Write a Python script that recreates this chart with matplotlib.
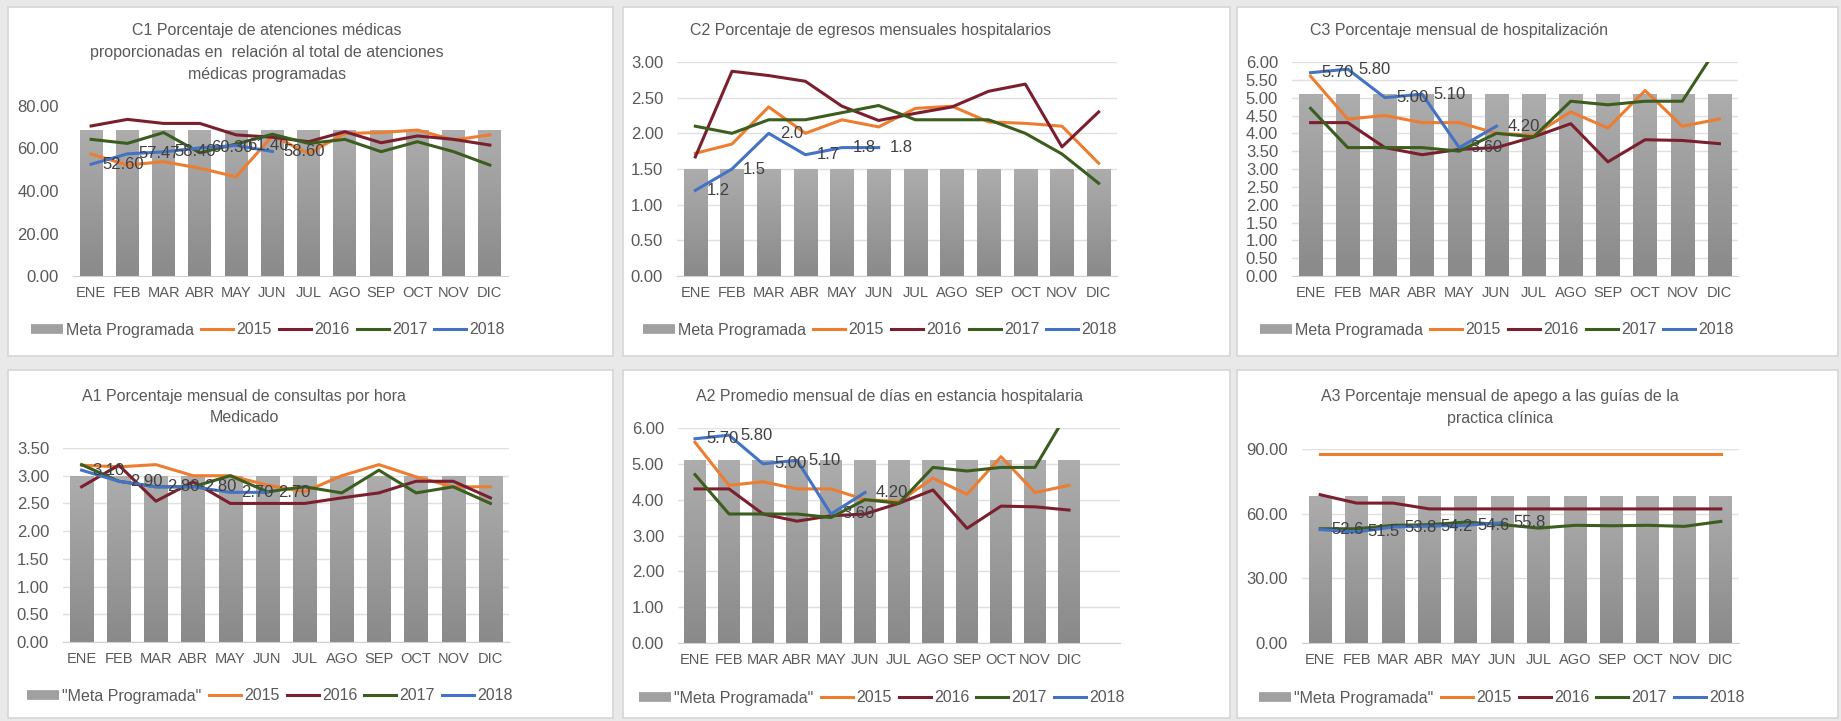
import numpy as np
import matplotlib
matplotlib.use('Agg')
import matplotlib.pyplot as plt
from matplotlib.patches import Rectangle
from matplotlib.lines import Line2D
from matplotlib.colors import LinearSegmentedColormap

plt.rcParams['font.family'] = ['Liberation Sans', 'DejaVu Sans']

W, H = 1841, 721

meses = ['ENE', 'FEB', 'MAR', 'ABR', 'MAY', 'JUN', 'JUL', 'AGO', 'SEP', 'OCT', 'NOV', 'DIC']
anios = ['2015', '2016', '2017', '2018']

# C1 atenciones medicas
c1_meta = 68.7
c1_2015 = [57.4, 52.2, 53.8, 50.7, 46.7, 65.9, 57.7, 67.1, 67.5, 68.7, 64.0, 66.4]
c1_2016 = [70.6, 73.7, 71.8, 71.8, 66.4, 65.3, 63.2, 67.9, 62.7, 65.9, 64.3, 61.6]
c1_2017 = [64.3, 62.4, 67.5, 58.0, 62.1, 66.7, 62.4, 64.3, 58.5, 63.2, 58.5, 52.2]
c1_2018 = [52.60, 57.47, 58.40, 60.30, 61.40, 58.60]

# C2 egresos hospitalarios
c2_meta = 1.5
c2_2015 = [1.72, 1.85, 2.37, 2.00, 2.19, 2.09, 2.35, 2.38, 2.16, 2.14, 2.10, 1.58]
c2_2016 = [1.67, 2.87, 2.81, 2.73, 2.38, 2.18, 2.28, 2.37, 2.59, 2.69, 1.81, 2.30]
c2_2017 = [2.10, 2.00, 2.19, 2.19, 2.29, 2.39, 2.19, 2.19, 2.19, 2.00, 1.71, 1.30]
c2_2018 = [1.2, 1.5, 2.0, 1.7, 1.8, 1.8]

# C3 / A2 hospitalizacion y estancia
hosp_meta = 5.1
hosp_2015 = [5.6, 4.4, 4.5, 4.3, 4.3, 4.0, 3.95, 4.6, 4.15, 5.2, 4.2, 4.4]
hosp_2016 = [4.3, 4.3, 3.6, 3.4, 3.55, 3.6, 3.9, 4.27, 3.2, 3.82, 3.8, 3.71]
hosp_2017 = [4.7, 3.6, 3.6, 3.6, 3.5, 4.0, 3.9, 4.9, 4.8, 4.9, 4.9, 6.5]
hosp_2018 = [5.70, 5.80, 5.00, 5.10, 3.60, 4.20]

# A1 consultas por hora
a1_meta = 3.0
a1_2015 = [3.19, 3.16, 3.20, 3.00, 3.00, 2.83, 2.71, 3.00, 3.20, 2.98, 2.80, 2.80]
a1_2016 = [2.80, 3.19, 2.54, 2.89, 2.50, 2.50, 2.50, 2.60, 2.69, 2.90, 2.90, 2.60]
a1_2017 = [3.20, 2.90, 2.80, 2.80, 3.00, 2.71, 2.80, 2.69, 3.10, 2.69, 2.80, 2.50]
a1_2018 = [3.10, 2.90, 2.80, 2.80, 2.70, 2.70]

# A3 apego a guias
a3_meta = 68.3
a3_2015 = [87.8] * 12
a3_2016 = [68.8, 64.9, 64.9, 62.2, 62.2, 62.2, 62.2, 62.2, 62.2, 62.2, 62.2, 62.2]
a3_2017 = [53.0, 53.0, 54.6, 54.9, 56.1, 54.9, 53.3, 54.6, 54.4, 54.6, 54.1, 56.4]
a3_2018 = [52.6, 51.5, 53.8, 54.2, 54.6, 55.8]

colores = {'2015': '#ED7D31', '2016': '#7B1F2E', '2017': '#3B5E1F', '2018': '#4472C4'}
txt_gris = '#595959'
bar_cmap = LinearSegmentedColormap.from_list('barra', ['#8a8a8a', '#adadad'])

fig = plt.figure(figsize=(W / 100, H / 100), dpi=100)
fig.patch.set_facecolor('#e9e9e9')


def fx(x):
    return x / W


def fy(y):
    return 1 - y / H


def panel(box, axbox, titulo, tit_xy, meta, series, etiquetas, fmt, ylim, paso,
          meta_label, leg_xy, nslots=12, grid=True):
    l, t, r, b = box
    fig.patches.append(Rectangle((fx(l), fy(b)), (r - l) / W, (b - t) / H,
                                 transform=fig.transFigure, facecolor='white',
                                 edgecolor='#d6d6d6', lw=1.2, zorder=-10))
    al, at, ar, ab = axbox
    ax = fig.add_axes([fx(al), fy(ab), (ar - al) / W, (ab - at) / H])
    ax.set_facecolor('none')
    x = np.arange(12)
    barras = ax.bar(x, [meta] * 12, width=0.63, color='none', zorder=1)
    # degradado gris de las barras
    grad = np.linspace(0, 1, 256).reshape(-1, 1)
    for br in barras:
        x0, y0 = br.get_x(), br.get_y()
        im = ax.imshow(grad, extent=(x0, x0 + br.get_width(), y0, y0 + br.get_height()),
                       aspect='auto', cmap=bar_cmap, origin='lower', zorder=1)
        im.set_clip_path(br)
    for anio, vals in zip(anios, series):
        ax.plot(np.arange(len(vals)), vals, color=colores[anio], lw=2.2, zorder=3,
                solid_joinstyle='round')
    for i, v in enumerate(etiquetas):
        ax.annotate(fmt.format(v), (i, v), xytext=(8, 0), textcoords='offset points',
                    ha='left', va='center', fontsize=12, color='#404040', zorder=4)
    ax.set_xlim(-0.5, nslots - 0.5)
    ax.set_ylim(*ylim)
    ax.set_yticks(np.arange(ylim[0], ylim[1] + paso / 2, paso))
    ax.yaxis.set_major_formatter(plt.FormatStrFormatter('%.2f'))
    ax.set_xticks(x)
    ax.set_xticklabels(meses)
    ax.tick_params(axis='both', length=0, colors=txt_gris)
    ax.tick_params(axis='y', labelsize=12, pad=10)
    ax.tick_params(axis='x', labelsize=10.5, pad=7)
    for s in ['top', 'right', 'left']:
        ax.spines[s].set_visible(False)
    ax.spines['bottom'].set_color('#d0d0d0')
    if grid:
        ax.yaxis.grid(True, color='#e0e0e0', lw=1)
        ax.set_axisbelow(True)
    cx, cy = tit_xy
    for k, linea in enumerate(titulo.split('\n')):
        fig.text(fx(cx), fy(cy + k * 21.5), linea, ha='center', va='center',
                 fontsize=11.5, color=txt_gris)
    handles = [Line2D([0], [0], color='#a0a0a0', lw=7, solid_capstyle='butt')]
    handles += [Line2D([0], [0], color=colores[a], lw=2.2) for a in anios]
    ax.legend(handles, [meta_label] + anios, loc='center',
              bbox_to_anchor=(fx(leg_xy[0]), fy(leg_xy[1])), bbox_transform=fig.transFigure,
              ncol=5, frameon=False, fontsize=11.5, handlelength=2.0, handletextpad=0.2,
              columnspacing=0.45, labelcolor=txt_gris)
    return ax


panel((8, 7, 613, 356), (73, 106, 508, 276),
      'C1 Porcentaje de atenciones médicas\nproporcionadas en  relación al total de atenciones\nmédicas programadas',
      (267, 31), c1_meta, [c1_2015, c1_2016, c1_2017, c1_2018], c1_2018, '{:.2f}',
      (0, 80), 20, 'Meta Programada', (268, 330), grid=False)

panel((623, 7, 1230, 356), (677, 62, 1117, 276),
      'C2 Porcentaje de egresos mensuales hospitalarios',
      (871, 31), c2_meta, [c2_2015, c2_2016, c2_2017, c2_2018], c2_2018, '{:.1f}',
      (0, 3), 0.5, 'Meta Programada', (880, 330))

panel((1237, 7, 1838, 356), (1292, 62, 1738, 276),
      'C3 Porcentaje mensual de hospitalización',
      (1459, 30), hosp_meta, [hosp_2015, hosp_2016, hosp_2017, hosp_2018], hosp_2018, '{:.2f}',
      (0, 6), 0.5, 'Meta Programada', (1497, 330))

panel((8, 370, 613, 718), (63, 448, 509, 642),
      'A1 Porcentaje mensual de consultas por hora\nMedicado',
      (244, 396), a1_meta, [a1_2015, a1_2016, a1_2017, a1_2018], a1_2018, '{:.2f}',
      (0, 3.5), 0.5, '"Meta Programada"', (270, 696))

panel((623, 370, 1230, 718), (678, 428, 1120, 643),
      'A2 Promedio mensual de días en estancia hospitalaria',
      (889, 397), hosp_meta, [hosp_2015, hosp_2016, hosp_2017, hosp_2018], hosp_2018, '{:.2f}',
      (0, 6), 1, '"Meta Programada"', (882, 698), nslots=13)

panel((1237, 370, 1838, 718), (1302, 449, 1739, 643),
      'A3 Porcentaje mensual de apego a las guías de la\npractica clínica',
      (1500, 397), a3_meta, [a3_2015, a3_2016, a3_2017, a3_2018], a3_2018, '{:.1f}',
      (0, 90), 30, '"Meta Programada"', (1502, 698))

fig.savefig('out.png', dpi=100, facecolor=fig.get_facecolor())
